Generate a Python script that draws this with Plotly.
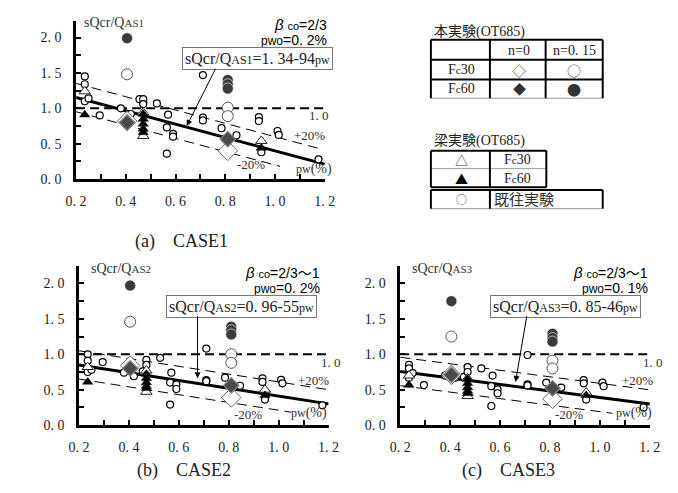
import plotly.graph_objects as go

W, H = 678, 493

# ---------------- data ----------------
x_tickvals = [0.2, 0.3, 0.4, 0.5, 0.6, 0.7, 0.8, 0.9, 1.0, 1.1, 1.2]
x_ticktext = ["0. 2", "", "0. 4", "", "0. 6", "", "0. 8", "", "1. 0", "", "1. 2"]
y_tickvals = [0.0, 0.25, 0.5, 0.75, 1.0, 1.25, 1.5, 1.75, 2.0]
y_ticktext = ["0. 0", "", "0. 5", "", "1. 0", "", "1. 5", "", "2. 0"]

case_names = ["(a)\u3000CASE1", "(b)\u3000CASE2", "(c)\u3000CASE3"]
ratio_labels = ["AS1", "AS2", "AS3"]
beta_labels = ["2/3", "2/3\uff5e1", "2/3\uff5e1"]
pwo_labels = ["0. 2%", "0. 2%", "0. 1%"]
fit_intercepts = [1.34, 0.96, 0.85]
fit_slopes = [0.94, 0.55, 0.46]
fit_texts = ["1. 34-94", "0. 96-55", "0. 85-46"]
band_offset = 0.2
upper_end = [1.19, 1.2, 1.2]
lower_end = [1.02, 1.05, 1.05]

# previous experiments (small open circles)
prev_pw = [0.235, 0.235, 0.235, 0.25, 0.295, 0.38, 0.42, 0.455, 0.47, 0.47,
           0.525, 0.57, 0.565, 0.59, 0.59, 0.565, 0.71, 0.71, 0.71, 0.785,
           0.845, 0.935, 0.935, 1.01, 1.015, 0.945, 1.175]
prev_a = [1.45, 1.34, 1.10, 1.14, 0.90, 1.00, 0.92, 1.13, 1.13, 1.06,
          1.07, 0.91, 0.73, 0.64, 0.60, 0.36, 1.47, 0.87, 0.83, 0.72,
          0.62, 0.875, 0.82, 0.68, 0.625, 0.38, 0.28]
prev_b = [1.00, 0.91, 0.75, 0.78, 0.89, 0.74, 0.69, 0.76, 0.92, 0.85,
          0.95, 0.74, 0.60, 0.575, 0.51, 0.29, 1.08, 0.635, 0.62, 0.67,
          0.556, 0.66, 0.61, 0.64, 0.59, 0.36, 0.28]
prev_c = [0.85, 0.80, 0.67, 0.735, 0.565, 0.70, 0.67, 0.68, 0.82, 0.75,
          0.80, 0.70, 0.55, 0.505, 0.45, 0.27, 0.99, 0.575, 0.56, 0.60,
          0.53, 0.635, 0.59, 0.60, 0.55, 0.36, 0.25]

# this test: Fc30 n=0 (open diamond), Fc60 n=0 (filled diamond)
dia_pw = [0.405, 0.81]
dia30_a, dia30_b, dia30_c = [0.82, 0.40], [0.84, 0.39], [0.71, 0.37]
dia60_a, dia60_b, dia60_c = [0.80, 0.565], [0.80, 0.56], [0.71, 0.52]

# this test: Fc30 n=0.15 (open circle), Fc60 n=0.15 (filled circle)
c30_pw = [0.405, 0.81, 0.81]
c30_a, c30_b, c30_c = [1.48, 1.01, 0.89], [1.46, 1.00, 0.88], [1.25, 0.91, 0.80]
c60_pw = [0.405, 0.81, 0.81, 0.81]
c60_a, c60_b, c60_c = [1.99, 1.40, 1.34, 1.28], [1.97, 1.39, 1.34, 1.28], [1.75, 1.29, 1.23, 1.18]

# beam tests: Fc30 (open triangle), Fc60 (filled triangle)
t30_pw = [0.235, 0.47, 0.47, 0.945]
t30_a, t30_b, t30_c = [1.24, 0.94, 0.61, 0.54], [0.82, 0.77, 0.47, 0.50], [0.70, 0.66, 0.41, 0.46]
t60_pw = [0.235, 0.47, 0.47, 0.47, 0.47, 0.47, 0.945]
t60_a = [0.91, 0.92, 0.85, 0.78, 0.71, 0.66, 0.44]
t60_b = [0.61, 0.72, 0.66, 0.60, 0.55, 0.52, 0.42]
t60_c = [0.565, 0.65, 0.59, 0.53, 0.48, 0.45, 0.42]

prev_vals = [prev_a, prev_b, prev_c]
dia30_vals = [dia30_a, dia30_b, dia30_c]
dia60_vals = [dia60_a, dia60_b, dia60_c]
c30_vals = [c30_a, c30_b, c30_c]
c60_vals = [c60_a, c60_b, c60_c]
t30_vals = [t30_a, t30_b, t30_c]
t60_vals = [t60_a, t60_b, t60_c]

# ---------------- layout geometry (pixels) ----------------
panels = [  # x_left, x_right, y_bottom (px)
    (59, 316, 174),
    (62, 320, 424),
    (394, 652, 424),
]
px_per_unit = 72.0
y_max = 2.24

SERIF = "Liberation Serif, Noto Sans CJK JP, serif"
SANS = "Liberation Sans, Noto Sans CJK JP, sans-serif"
CJK = "Noto Sans CJK JP, sans-serif"

fig = go.Figure()
layout = dict(
    width=W, height=H, margin=dict(l=0, r=0, t=0, b=0),
    paper_bgcolor="white", plot_bgcolor="white", showlegend=False,
)

annotations = []
shapes = []

def px(x, y):
    return x / W, 1 - y / H

for i, (xl, xr, yb) in enumerate(panels):
    sfx = "" if i == 0 else str(i + 1)
    xa, ya = "x" + sfx, "y" + sfx
    ytop = yb - y_max * px_per_unit
    layout["xaxis" + sfx] = dict(
        domain=[xl / W, xr / W], anchor=ya, range=[0.2, 1.2],
        tickvals=x_tickvals, ticktext=x_ticktext, ticks="inside", ticklen=5,
        tickwidth=2, tickcolor="black", showline=True, linewidth=2.5,
        linecolor="black", showgrid=False, zeroline=False,
        tickfont=dict(family=SERIF, size=14, color="#222"),
        ticklabelstandoff=7, fixedrange=True,
    )
    layout["yaxis" + sfx] = dict(
        domain=[1 - yb / H, 1 - ytop / H], anchor=xa, range=[0, y_max],
        tickvals=y_tickvals, ticktext=y_ticktext, ticks="inside", ticklen=5,
        tickwidth=2, tickcolor="black", showline=True, linewidth=2.5,
        linecolor="black", showgrid=False, zeroline=False,
        tickfont=dict(family=SERIF, size=14, color="#222"),
        ticklabelstandoff=9, fixedrange=True,
    )

    a0, s0 = fit_intercepts[i], fit_slopes[i]
    # reference 1.0 line
    fig.add_trace(go.Scatter(x=[0.2, 1.2], y=[1.0, 1.0], mode="lines",
                             line=dict(color="black", width=2, dash="9px,5px"),
                             xaxis=xa, yaxis=ya, hoverinfo="skip"))
    # +/-20% bands
    ux = [0.2, upper_end[i]]
    fig.add_trace(go.Scatter(x=ux, y=[a0 - s0 * v + band_offset for v in ux], mode="lines",
                             line=dict(color="black", width=1, dash="10px,6px"),
                             xaxis=xa, yaxis=ya, hoverinfo="skip"))
    lx = [0.2, lower_end[i]]
    fig.add_trace(go.Scatter(x=lx, y=[a0 - s0 * v - band_offset for v in lx], mode="lines",
                             line=dict(color="black", width=1, dash="10px,6px"),
                             xaxis=xa, yaxis=ya, hoverinfo="skip"))
    # fit line
    fx = [0.2, 1.2]
    fig.add_trace(go.Scatter(x=fx, y=[a0 - s0 * v for v in fx], mode="lines",
                             line=dict(color="black", width=3),
                             xaxis=xa, yaxis=ya, hoverinfo="skip"))

    # markers
    fig.add_trace(go.Scatter(x=prev_pw, y=prev_vals[i], mode="markers",
                             marker=dict(symbol="circle", size=7, color="white",
                                         line=dict(color="black", width=1.2)),
                             xaxis=xa, yaxis=ya))
    fig.add_trace(go.Scatter(x=t30_pw, y=t30_vals[i], mode="markers",
                             marker=dict(symbol="triangle-up", size=10, color="white",
                                         line=dict(color="#222", width=1)),
                             xaxis=xa, yaxis=ya))
    fig.add_trace(go.Scatter(x=t60_pw, y=t60_vals[i], mode="markers",
                             marker=dict(symbol="triangle-up", size=9, color="black",
                                         line=dict(color="black", width=0.5)),
                             xaxis=xa, yaxis=ya))
    fig.add_trace(go.Scatter(x=c30_pw, y=c30_vals[i], mode="markers",
                             marker=dict(symbol="circle", size=11, color="white",
                                         line=dict(color="#555", width=1)),
                             xaxis=xa, yaxis=ya))
    fig.add_trace(go.Scatter(x=c60_pw, y=c60_vals[i], mode="markers",
                             marker=dict(symbol="circle", size=11, color="#3a3a3a",
                                         line=dict(color="white", width=0.6)),
                             xaxis=xa, yaxis=ya))
    fig.add_trace(go.Scatter(x=dia_pw, y=dia30_vals[i], mode="markers",
                             marker=dict(symbol="diamond", size=15, color="white",
                                         line=dict(color="#666", width=1)),
                             xaxis=xa, yaxis=ya))
    fig.add_trace(go.Scatter(x=dia_pw, y=dia60_vals[i], mode="markers",
                             marker=dict(symbol="diamond", size=12, color="#4a4a4a",
                                         line=dict(color="#888", width=1.2)),
                             xaxis=xa, yaxis=ya))

    # texts inside panel
    rlab = ratio_labels[i]
    annotations.append(dict(xref=xa, yref=ya, x=[0.223, 0.239, 0.241][i], y=2.21,
                            xanchor="left", yanchor="middle", showarrow=False,
                            text="sQcr/Q<span style='font-size:11px'>%s</span>" % rlab,
                            font=dict(family=SERIF, size=14, color="#333")))
    rx, rshift = [(1.2, 4), (1.174, 0), (1.2, 0)][i]
    by1, by2 = [(2.18, 1.96), (2.15, 1.93), (2.15, 1.93)][i]
    annotations.append(dict(xref=xa, yref=ya, x=rx, y=by1, xshift=rshift,
                            xanchor="right", yanchor="middle", showarrow=False,
                            text="<i><span style='font-size:15px'>β</span></i> <span style='font-size:11px'>co</span>=%s" % beta_labels[i],
                            font=dict(family=SANS, size=14, color="black")))
    annotations.append(dict(xref=xa, yref=ya, x=rx, y=by2, xshift=rshift,
                            xanchor="right", yanchor="middle", showarrow=False,
                            text="<span style='font-size:12px'>pwo</span>=%s" % pwo_labels[i],
                            font=dict(family=SANS, size=14, color="black")))
    bx, by = [(0.928, 1.71), (0.853, 1.68), (0.863, 1.68)][i]
    annotations.append(dict(xref=xa, yref=ya, x=bx, y=by, xanchor="center", yanchor="middle",
                            showarrow=False, bgcolor="white", bordercolor="#777",
                            borderwidth=1, borderpad=2,
                            text="sQcr/Q<span style='font-size:12px'>%s</span>=%s<span style='font-size:12px'>pw</span>" % (rlab, fit_texts[i]),
                            font=dict(family=SERIF, size=16, color="#222")))
    (tx, ty), (sx, sy) = [((0.645, 0.75), (0.764, 1.58)),
                          ((0.675, 0.66), (0.675, 1.56)),
                          ((0.662, 0.61), (0.708, 1.56))][i]
    annotations.append(dict(xref=xa, yref=ya, x=tx, y=ty, axref=xa, ayref=ya, ax=sx, ay=sy,
                            text="", showarrow=True, arrowhead=2, arrowsize=1.2,
                            arrowwidth=1, arrowcolor="black", standoff=0, startstandoff=0))
    lbls = ["1. 0", "+20%", "-20%", "<span style='font-size:12px'>pw</span>(%)"]
    locs = [[(1.177, 0.90, 0), (1.138, 0.61, 0), (0.904, 0.21, 0), (1.157, 0.15, 0)],
            [(1.2, 0.88, 2), (1.14, 0.63, 0), (0.877, 0.15, 0), (1.12, 0.17, 0)],
            [(1.2, 0.88, 3), (1.15, 0.63, 0), (0.876, 0.15, 0), (1.135, 0.17, 0)]][i]
    for txt, (lxp, lyp, shf) in zip(lbls, locs):
        annotations.append(dict(xref=xa, yref=ya, x=lxp, y=lyp, xshift=shf,
                                xanchor="center", yanchor="middle",
                                showarrow=False, text=txt,
                                font=dict(family=SERIF, size=14 if "pw" in txt else 13,
                                          color="#333")))
    # caption
    cx, cy = [(168, 237), (171, 470), (506, 470)][i]
    px_, py_ = px(cx, cy)
    annotations.append(dict(xref="paper", yref="paper", x=px_, y=py_, xanchor="center",
                            yanchor="middle", showarrow=False, text=case_names[i],
                            font=dict(family=SERIF, size=18, color="#222")))

# ---------------- legend tables ----------------
def hline(x0, x1, y, w=2, c="black"):
    a, b = px(x0, y)
    cc, d = px(x1, y)
    shapes.append(dict(type="line", xref="paper", yref="paper", x0=a, y0=b, x1=cc, y1=d,
                       line=dict(color=c, width=w)))

def vline(x, y0, y1, w=2, c="black"):
    a, b = px(x, y0)
    cc, d = px(x, y1)
    shapes.append(dict(type="line", xref="paper", yref="paper", x0=a, y0=b, x1=cc, y1=d,
                       line=dict(color=c, width=w)))

def ptext(x, y, text, size=14, anchor="center", family=SERIF, color="#222"):
    a, b = px(x, y)
    annotations.append(dict(xref="paper", yref="paper", x=a, y=b, xanchor=anchor,
                            yanchor="middle", showarrow=False, text=text,
                            font=dict(family=family, size=size, color=color)))

# table 1
for y in (32.3, 52.7, 72.7):
    hline(425.7, 603.3, y)
hline(425.7, 603.3, 91.7, w=1, c="#999")
for x in (425.7, 486.7, 544.3, 603.3):
    vline(x, 32.3, 91.7)
ptext(427, 24, "本実験(OT685)", size=14, anchor="left")
ptext(517, 43, "n=0", size=14)
ptext(574, 43, "n=0. 15", size=14)
ptext(457, 63, "F<span style='font-size:11px'>c</span>30", size=14)
ptext(457, 82, "F<span style='font-size:11px'>c</span>60", size=14)
ptext(517, 63, "◇", size=14, family=CJK, color="#555")
ptext(574, 63, "○", size=14, family=CJK, color="#555")
ptext(517, 82, "◆", size=13, family=CJK, color="#333")
ptext(574, 82, "●", size=14, family=CJK, color="#333")

# table 2
hline(425.7, 545, 145)
hline(425.7, 545, 163.3, w=1, c="#999")
hline(425.7, 545, 182.3)
for x in (425.7, 486.7, 545):
    vline(x, 145, 182.3)
hline(425.7, 603.3, 185)
hline(425.7, 603.3, 204, w=1, c="#999")
for x in (425.7, 486.7, 603.3):
    vline(x, 185, 204)
ptext(427, 135, "梁実験(OT685)", size=14, anchor="left")
ptext(457, 154, "△", size=13, family=CJK, color="#333")
ptext(515, 154, "F<span style='font-size:11px'>c</span>30", size=14)
ptext(457, 173, "▲", size=13, family=CJK, color="black")
ptext(515, 173, "F<span style='font-size:11px'>c</span>60", size=14)
ptext(457, 194, "○", size=11, family=CJK, color="#444")
ptext(489, 194, "既往実験", size=15, anchor="left", family=CJK, color="#333")

layout["annotations"] = annotations
layout["shapes"] = shapes
fig.update_layout(**layout)
fig.write_html("out.html")
